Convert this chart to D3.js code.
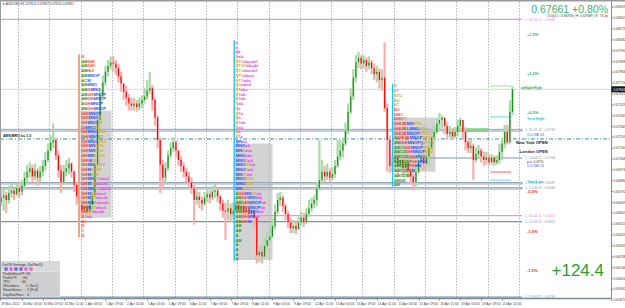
<!DOCTYPE html>
<html>
  <head>
    <meta charset="utf-8">
    <title>AUDUSD H1</title>
    <script src="https://cdn.jsdelivr.net/npm/d3@7"></script>
    <style>
      body { margin: 0; background: #fff; }
      svg { display: block; }
      text { font-family: "Liberation Sans", Arial, sans-serif; }
    </style>
  </head>
  <body>
    <script>
     // 2-hour bars, open = previous close
     let firstOpen = 0.6670;
     let closes = [
       0.6674,0.6676,0.6672,0.6678,0.6680,0.6677,0.6682,0.6679,0.6684,0.6691,
       0.6696,0.6699,0.6692,0.6697,0.6691,0.6696,0.6701,0.6706,0.6714,0.6721,
       0.6723,0.6710,0.6697,0.6687,0.6696,0.6699,0.6703,0.6696,0.6685,0.6675,
       0.6668,0.6663,0.6667,0.6662,0.6668,0.6676,0.6702,0.6740,0.6761,0.6772,
       0.6781,0.6786,0.6789,0.6788,0.6784,0.6777,0.6771,0.6764,0.6759,0.6754,
       0.6752,0.6754,0.6751,0.6754,0.6757,0.6760,0.6765,0.6767,0.6757,0.6742,
       0.6723,0.6702,0.6691,0.6699,0.6710,0.6716,0.6721,0.6714,0.6706,0.6701,
       0.6696,0.6692,0.6687,0.6682,0.6672,0.6675,0.6672,0.6669,0.6674,0.6677,
       0.6674,0.6679,0.6680,0.6675,0.6669,0.6663,0.6662,0.6665,0.6660,0.6663,
       0.6668,0.6663,0.6667,0.6662,0.6665,0.6660,0.6663,0.6657,0.6625,0.6628,
       0.6624,0.6633,0.6638,0.6641,0.6650,0.6662,0.6672,0.6674,0.6667,0.6660,
       0.6653,0.6648,0.6650,0.6647,0.6653,0.6657,0.6653,0.6660,0.6665,0.6669,
       0.6672,0.6682,0.6689,0.6696,0.6692,0.6696,0.6691,0.6694,0.6701,0.6709,
       0.6714,0.6720,0.6731,0.6747,0.6760,0.6776,0.6789,0.6793,0.6788,0.6791,
       0.6786,0.6789,0.6784,0.6779,0.6781,0.6774,0.6776,0.6750,0.6723,0.6701,
       0.6704,0.6708,0.6701,0.6706,0.6699,0.6704,0.6697,0.6692,0.6687,0.6696,
       0.6704,0.6708,0.6703,0.6709,0.6716,0.6725,0.6730,0.6737,0.6740,0.6742,
       0.6735,0.6728,0.6730,0.6726,0.6730,0.6735,0.6740,0.6730,0.6721,0.6716,
       0.6718,0.6706,0.6711,0.6714,0.6709,0.6706,0.6708,0.6704,0.6708,0.6704,
       0.6706,0.6713,0.6720,0.6730,0.6721,0.6747,0.67661
     ];
     let highs = [
       0.6680,0.6682,0.6679,0.6684,0.6686,0.6682,0.6686,0.6685,0.6689,0.6696,
       0.6702,0.6704,0.6702,0.6703,0.6699,0.6701,0.6706,0.6713,0.6720,0.6727,
       0.6737,0.6725,0.6714,0.6702,0.6702,0.6706,0.6708,0.6704,0.6697,0.6687,
       0.6676,0.6672,0.6672,0.6670,0.6674,0.6682,0.6706,0.6747,0.6767,0.6778,
       0.6786,0.6791,0.6794,0.6794,0.6791,0.6788,0.6781,0.6771,0.6769,0.6762,
       0.6759,0.6759,0.6757,0.6759,0.6761,0.6767,0.6774,0.6781,0.6770,0.6759,
       0.6744,0.6725,0.6706,0.6704,0.6714,0.6721,0.6725,0.6723,0.6714,0.6709,
       0.6704,0.6699,0.6696,0.6691,0.6685,0.6680,0.6679,0.6675,0.6679,0.6682,
       0.6680,0.6684,0.6685,0.6682,0.6676,0.6672,0.6670,0.6672,0.6669,0.6670,
       0.6674,0.6672,0.6672,0.6670,0.6672,0.6668,0.6669,0.6667,0.6659,0.6633,
       0.6633,0.6640,0.6645,0.6648,0.6657,0.6668,0.6678,0.6679,0.6676,0.6669,
       0.6663,0.6657,0.6655,0.6653,0.6658,0.6662,0.6661,0.6665,0.6672,0.6674,
       0.6676,0.6687,0.6723,0.6706,0.6701,0.6703,0.6699,0.6700,0.6706,0.6723,
       0.6723,0.6725,0.6738,0.6754,0.6767,0.6783,0.6795,0.6798,0.6795,0.6795,
       0.6793,0.6794,0.6791,0.6788,0.6786,0.6784,0.6783,0.6806,0.6754,0.6727,
       0.6710,0.6714,0.6713,0.6714,0.6710,0.6713,0.6708,0.6706,0.6701,0.6703,
       0.6713,0.6714,0.6713,0.6716,0.6723,0.6730,0.6735,0.6742,0.6746,0.6744,
       0.6742,0.6738,0.6735,0.6733,0.6734,0.6740,0.6742,0.6740,0.6734,0.6723,
       0.6723,0.6720,0.6717,0.6719,0.6716,0.6713,0.6713,0.6711,0.6711,0.6710,
       0.6710,0.6720,0.6725,0.6736,0.6736,0.6757,0.6769
     ];
     let lows = [
       0.6667,0.6663,0.6661,0.6669,0.6674,0.6672,0.6675,0.6674,0.6676,0.6682,
       0.6687,0.6691,0.6686,0.6689,0.6684,0.6687,0.6692,0.6697,0.6704,0.6713,
       0.6716,0.6706,0.6691,0.6678,0.6685,0.6692,0.6694,0.6691,0.6679,0.6668,
       0.6659,0.6657,0.6660,0.6657,0.6659,0.6663,0.6674,0.6699,0.6736,0.6759,
       0.6769,0.6777,0.6783,0.6781,0.6778,0.6772,0.6764,0.6757,0.6752,0.6748,
       0.6748,0.6748,0.6747,0.6748,0.6750,0.6754,0.6757,0.6762,0.6748,0.6735,
       0.6716,0.6678,0.6682,0.6687,0.6697,0.6708,0.6713,0.6708,0.6701,0.6696,
       0.6691,0.6687,0.6682,0.6677,0.6651,0.6668,0.6665,0.6663,0.6667,0.6670,
       0.6669,0.6672,0.6674,0.6670,0.6663,0.6657,0.6638,0.6655,0.6653,0.6655,
       0.6660,0.6658,0.6660,0.6657,0.6658,0.6655,0.6657,0.6650,0.6618,0.6619,
       0.6618,0.6623,0.6630,0.6635,0.6640,0.6647,0.6660,0.6667,0.6662,0.6655,
       0.6648,0.6644,0.6644,0.6643,0.6647,0.6650,0.6649,0.6652,0.6658,0.6662,
       0.6665,0.6667,0.6680,0.6686,0.6687,0.6689,0.6687,0.6689,0.6691,0.6699,
       0.6706,0.6708,0.6718,0.6728,0.6745,0.6757,0.6772,0.6784,0.6783,0.6784,
       0.6781,0.6783,0.6779,0.6774,0.6772,0.6767,0.6765,0.6747,0.6696,0.6695,
       0.6696,0.6697,0.6691,0.6696,0.6692,0.6694,0.6691,0.6686,0.6680,0.6682,
       0.6694,0.6699,0.6697,0.6701,0.6701,0.6714,0.6723,0.6728,0.6731,0.6733,
       0.6728,0.6723,0.6725,0.6723,0.6725,0.6726,0.6730,0.6723,0.6714,0.6712,
       0.6712,0.6689,0.6704,0.6708,0.6704,0.6701,0.6702,0.6701,0.6702,0.6701,
       0.6702,0.6703,0.6706,0.6716,0.6719,0.6720,0.6744
     ];

     // time axis: hour index of each label
     let timeTickIdx = [0, 17, 33, 49, 65, 81, 97, 113, 129, 145, 161, 177, 193,
                        209, 225, 241, 257, 273, 289, 305, 321, 337, 353, 369, 385];
     let timeTickLabels = ["29 Mar 2021", "30 Mar 03:00", "30 Mar 19:00", "31 Mar 11:00",
                           "1 Apr 03:00", "1 Apr 19:00", "2 Apr 11:00", "5 Apr 03:00",
                           "5 Apr 19:00", "6 Apr 11:00", "7 Apr 03:00", "7 Apr 19:00",
                           "8 Apr 11:00", "9 Apr 03:00", "9 Apr 19:00", "12 Apr 11:00",
                           "13 Apr 03:00", "13 Apr 19:00", "14 Apr 11:00", "15 Apr 03:00",
                           "15 Apr 19:00", "16 Apr 11:00", "19 Apr 03:00", "19 Apr 19:00",
                           "20 Apr 11:00"];
     // day separators (hour index of 00:00)
     let daySepIdx = [14, 38, 62, 86, 110, 134, 158, 182, 206, 230, 254, 278, 302, 326, 350, 374, 398];

     // price axis labels
     let priceTicks = [0.68359, 0.68267, 0.68175, 0.68082, 0.67990, 0.67898, 0.67806,
                       0.67714, 0.67621, 0.67529, 0.67437, 0.67345, 0.67253, 0.67160,
                       0.67068, 0.66976, 0.66884, 0.66792, 0.66699, 0.66607, 0.66515,
                       0.66423, 0.66331, 0.66238, 0.66146, 0.66054, 0.65962, 0.65870];
     let lastPrice = 0.67661;
     let dayOpen = 0.67124;

     // percent levels from the day open
     let pctLevels = [1.5, 1.0, 0.5, -0.5, -1.0, -1.5];

     // horizontal levels (single lines)
     let lineLevels = [0.68256, 0.67077, 0.66587, 0.66536, 0.65895];
     let lineKinds = ["violet", "gray", "violet", "gray", "gray"];
     let lineStartIdx = [0, 301, 176, 0, 0];
     let lineLabels = ["1. 30.03.21 : 0.6826", "1. 14.04.21 : 0.6708", "1. 06.04.21 : 0.6659",
                       "1. 12.04.21 : 0.6654", "1. 19.04.21 : 0.6590"];
     // zones (two prices each)
     let zoneTop = [0.67321, 0.66869, 0.66826];
     let zoneBottom = [0.67306, 0.66856, 0.66813];
     let zoneLabels = ["1. 31.03.21 : 0.6732", "1. 29.03.21 : 0.6687", "1. 12.04.21 : 0.6683"];
     let pivotLevel = 0.67239;

     // today's short levels
     let yestHigh = 0.67426, yestLow = 0.66890, todayHigh = 0.67689, todayLow = 0.66958;
     let pocTop = 0.67331, pocBottom = 0.67297;

     // TPO profiles
     let tpoStep = 0.0004;
     let profileStart = [61.5, 179.8, 301.2];
     let profileTop = [0.6794, 0.6806, 0.6769];
     let vaTop = [0.6748, 0.6720, 0.6742];
     let vaBottom = [0.6657, 0.6621, 0.6696];
     let vaEnd = [85.3, 208.7, 333.6];
     let rowsA = ["G", "ABGHI", "ABGHI", "ABHIJ", "ABMNOP", "ACM", "ABMNO", "ABGMNO",
                  "ABGHMNOP", "ABGHMNOP", "AGHMNOP", "ABGHMNOP", "GHIMNOP", "GHIMNOS",
                  "GHMNOST", "GIMNOST", "GHMNOSTU", "GHIMNOST", "GHMNOSTU", "GHIMNSTU",
                  "GHIMNSTU", "GHMNSTUV", "GHIMSTU", "GHMNSTUV", "GHMSTUV", "GHMSTU",
                  "GHMNSTabcd", "GHMSTabcde", "GHMNSTabcde", "GHMSTabcd", "GHMSTabcde",
                  "GHMNSabcde", "GHMSTabcd", "GHSTabcde", "GSab", "GS", "G", "S", "G"];
     let rowsB = ["a", "a", "ab", "Sab", "STUabcdef", "STUVabcde", "STUabcdef", "STUabcd",
                  "STUabc", "SUabcd", "STabc", "STab", "STab", "Sab",
                  "Sa", "STa", "Sa", "STab", "Sab", "Sa", "STa",
                  "MNab", "MNOab", "MNSabc", "MNOabc", "MNOSab", "MNOSTab", "MNOSab",
                  "MNSTab", "MNOSTU", "MNOSTU", "MNSTU",
                  "AGHMNSTab", "ABGHMNOab", "ABGHIMNOPab", "ABGHMNOPab", "ABGHIMNOab",
                  "ABGHMNab", "ABGHM", "AB", "AB", "A", "AB", "A", "A", "A", "A"];
     let rowsC = ["S", "ST", "STU", "SU", "ST", "GS", "GHS", "GHIST",
                  "GHIJKMNSTU", "GHIJKLMNOSTU", "GHIJKMNOPSTUV", "AGHIJKMNOPSTUV",
                  "ABGHIMNOPQSTUV", "ABCGHIMNOPSTU", "ABCDGHMNOPSTU", "ABCDEGHMNOST",
                  "ABCDEFGHMNO", "ABCDEFHMN", "ABCDEFM", "ABCDEF", "ABDE", "AB"];
     let profileRows = [rowsA, rowsB, rowsC];

     let settingsKeys = ["ProfileHistoTF", "ProfileTF", "TPO", "ZNumbers", "ShowValues", "DayStartHour"];
     let settingsValues = ["H1", "H1", "60", "2 (Ser1)", "2 (Full)", "0"];

     // canvas -------------------------------------------------------------
     let w = 625, h = 308;
     let axisX = 611, axisY = 298;
     let svg = d3.select("body").append("svg").attr("width", w).attr("height", h);
     svg.append("rect").attr("width", w).attr("height", h).attr("fill", "#fff");

     let xScale = d3.scaleLinear().domain([14, 398]).range([18, 519]);
     let yScale = d3.scaleLinear().domain([0.65887, 0.68420]).range([axisY, 0]);

     svg.append("clipPath").attr("id", "plot")
        .append("rect").attr("x", 0).attr("y", 1.5).attr("width", axisX).attr("height", axisY - 1.5);
     let plot = svg.append("g").attr("clip-path", "url(#plot)");

     // value area boxes
     plot.selectAll("rect.va")
         .data(profileStart)
         .enter()
         .append("rect")
         .attr("x", (d) => xScale(d) + 0.5)
         .attr("width", (d, i) => xScale(vaEnd[i]) - xScale(d))
         .attr("y", (d, i) => yScale(vaTop[i]))
         .attr("height", (d, i) => yScale(vaBottom[i]) - yScale(vaTop[i]))
         .attr("fill", "#d3d3d3");

     // day separators
     plot.selectAll("line.sep")
         .data(daySepIdx)
         .enter()
         .append("line")
         .attr("x1", (d) => Math.round(xScale(d)) + 0.5)
         .attr("x2", (d) => Math.round(xScale(d)) + 0.5)
         .attr("y1", 2).attr("y2", axisY)
         .attr("stroke", "#b4b4b4")
         .attr("stroke-dasharray", "1.5,1.5");

     // current price line
     plot.append("line")
         .attr("x1", 0).attr("x2", axisX)
         .attr("y1", yScale(lastPrice)).attr("y2", yScale(lastPrice))
         .attr("stroke", "#d6d6d6");

     // zones
     plot.selectAll("rect.zone")
         .data(zoneTop)
         .enter()
         .append("rect")
         .attr("x", 0).attr("width", 522)
         .attr("y", (d) => yScale(d))
         .attr("height", (d, i) => yScale(zoneBottom[i]) - yScale(d))
         .attr("fill", "#e3e9ef")
         .attr("stroke", "#8ea2b6")
         .attr("stroke-width", 0.9);

     // single levels
     plot.selectAll("line.lvl")
         .data(lineLevels)
         .enter()
         .append("line")
         .attr("x1", (d, i) => lineStartIdx[i] ? xScale(lineStartIdx[i]) : 0)
         .attr("x2", 522)
         .attr("y1", (d) => yScale(d)).attr("y2", (d) => yScale(d))
         .attr("stroke", (d, i) => lineKinds[i] == "violet" ? "#d59ee0" : "#7f93a7")
         .attr("stroke-width", 1.2);

     // pivot dash-dot
     plot.append("line")
         .attr("x1", 0).attr("x2", axisX)
         .attr("y1", yScale(pivotLevel)).attr("y2", yScale(pivotLevel))
         .attr("stroke", "#2b9a9a")
         .attr("stroke-dasharray", "4,2,1,2");

     // poc bar and today's short lines
     plot.append("rect")
         .attr("x", xScale(347.4)).attr("width", xScale(374.2) - xScale(347.4))
         .attr("y", yScale(pocTop)).attr("height", yScale(pocBottom) - yScale(pocTop))
         .attr("fill", "#7ed07e").attr("opacity", 0.8);
     let shortLines = [[todayHigh, "#9be39b"], [yestHigh, "#5ee0f0"], [todayLow, "#ff5a5a"], [yestLow, "#5ee0f0"]];
     plot.selectAll("line.short")
         .data(shortLines)
         .enter()
         .append("line")
         .attr("x1", xScale(376)).attr("x2", xScale(392))
         .attr("y1", (d) => yScale(d[0])).attr("y2", (d) => yScale(d[0]))
         .attr("stroke", (d) => d[1]);

     // candles
     let bars = closes.map((c, i) => {
       let o = i == 0 ? firstOpen : closes[i - 1];
       return {i: i, o: o, c: c, h: Math.max(highs[i], o, c), l: Math.min(lows[i], o, c)};
     });
     let cx = (d) => xScale(2 * d.i + 1);
     plot.selectAll("rect.wick")
         .data(bars)
         .enter()
         .append("rect")
         .attr("x", (d) => cx(d) - 1.1)
         .attr("width", 2.2)
         .attr("y", (d) => yScale(d.h))
         .attr("height", (d) => Math.max(1, yScale(d.l) - yScale(d.h)))
         .attr("fill", (d) => d.c >= d.o ? "#a9dba9" : "#f7b0b0");
     plot.selectAll("rect.body")
         .data(bars)
         .enter()
         .append("rect")
         .attr("x", (d) => cx(d) - 0.6)
         .attr("width", 1.2)
         .attr("y", (d) => yScale(Math.max(d.o, d.c)))
         .attr("height", (d) => Math.max(1, Math.abs(yScale(d.o) - yScale(d.c))))
         .attr("fill", (d) => d.c >= d.o ? "#1f8f1f" : "#ff0000");

     // TPO profiles
     function tpoColor(ch) {
       if (ch >= "a") return "#f03cf0";
       if (ch <= "F") return "#2e9a2e";
       if (ch <= "L") return "#ff2a2a";
       if (ch <= "R") return "#3050ff";
       return "#dfa030";
     }
     profileRows.forEach((rows, p) => {
       let x0 = xScale(profileStart[p]);
       let yTop = yScale(profileTop[p]);
       let yBot = yScale(profileTop[p] - tpoStep * (rows.length - 1));
       plot.append("rect")
           .attr("x", x0 - (p == 0 ? 2 : 0.8)).attr("width", p == 0 ? 2 : 1.4)
           .attr("y", yTop - 2).attr("height", yBot - yTop + 4)
           .attr("fill", p == 0 ? "#f6a27c" : "#22c4f4");
       let g = plot.append("g");
       g.selectAll("text")
        .data(rows)
        .enter()
        .append("text")
        .attr("x", x0 + 1.2)
        .attr("y", (d, k) => yScale(profileTop[p] - tpoStep * k) + 1.6)
        .attr("font-size", 4.2)
        .attr("font-weight", "bold")
        .each(function (d) {
          d3.select(this).selectAll("tspan")
            .data(d.split(""))
            .enter()
            .append("tspan")
            .attr("fill", tpoColor)
            .text((ch) => ch);
        });
     });

     // left tag on pivot
     svg.append("text").attr("x", 3).attr("y", yScale(pivotLevel) - 1.5)
        .attr("font-size", 3.6).attr("font-weight", "bold").attr("fill", "#222")
        .text("AMS/BRO bu 1.0");

     // right side labels ---------------------------------------------------
     let lx = 525;
     svg.selectAll("text.lvl")
        .data(lineLevels)
        .enter()
        .append("text")
        .attr("x", lx).attr("y", (d) => yScale(d) + 1.3)
        .attr("font-size", 3.4)
        .attr("fill", (d, i) => lineKinds[i] == "violet" ? "#d58ee0" : "#8a9aab")
        .text((d, i) => lineLabels[i]);
     svg.selectAll("text.zone")
        .data(zoneTop)
        .enter()
        .append("text")
        .attr("x", lx).attr("y", (d) => yScale(d) + 1.3)
        .attr("font-size", 3.4).attr("fill", "#8a9aab")
        .text((d, i) => zoneLabels[i]);
     svg.selectAll("text.pct")
        .data(pctLevels)
        .enter()
        .append("text")
        .attr("x", 527).attr("y", (d) => yScale(dayOpen * (1 + d / 100)) + 1.5)
        .attr("font-size", 4).attr("font-weight", "bold")
        .attr("fill", (d) => d > 0 ? "#3cb04a" : "#ff2020")
        .text((d) => (d > 0 ? "+" : "") + d.toFixed(1) + "%");

     let tags = [["wHigh/High", todayHigh, "#3cb04a", 521], ["Yest High", yestHigh, "#20c4e4", 527],
                 ["Yest Low", yestLow, "#20c4e4", 527]];
     svg.selectAll("text.tag")
        .data(tags)
        .enter()
        .append("text")
        .attr("x", (d) => d[3]).attr("y", (d) => yScale(d[1]) + 3)
        .attr("font-size", 3.8).attr("font-weight", "bold")
        .attr("fill", (d) => d[2])
        .text((d) => d[0]);
     svg.append("text").attr("x", 527).attr("y", yScale(zoneBottom[0]) + 5)
        .attr("font-size", 3.6).attr("fill", "#3355ff").text("CLOSE 01");
     svg.append("text").attr("x", 527).attr("y", yScale(lineLevels[1]) + 8.5)
        .attr("font-size", 3.6).attr("fill", "#3355ff").text("CLOSE 01");
     svg.append("text").attr("x", 527).attr("y", yScale(lineLevels[1]) + 5)
        .attr("font-size", 3.4).attr("fill", "#333").text("p.o. 0.6711");
     svg.append("text").attr("x", 516).attr("y", yScale(pivotLevel) + 5.5)
        .attr("font-size", 4.2).attr("font-weight", "bold").attr("fill", "#111").text("New York OPEN");
     svg.append("text").attr("x", 519.5).attr("y", yScale(pivotLevel) + 14.5)
        .attr("font-size", 4.2).attr("font-weight", "bold").attr("fill", "#1a1a6a").text("London OPEN");

     // header texts
     svg.append("rect").attr("x", 0).attr("y", 0).attr("width", w).attr("height", 1.5).attr("fill", "#9a9a9a");
     svg.append("text").attr("x", 2).attr("y", 5.2)
        .attr("font-size", 3.2).attr("fill", "#333")
        .text("\u25BC AUDUSD,H1  0.67612 0.67667 0.67610 " + lastPrice.toFixed(5));
     svg.append("text").attr("x", 608).attr("y", 12.5)
        .attr("text-anchor", "end").attr("font-size", 10.5).attr("fill", "#3cb371")
        .text(lastPrice.toFixed(5) + "  +" + ((lastPrice / dayOpen - 1) * 100).toFixed(2) + "%");
     svg.append("text").attr("x", 608).attr("y", 17)
        .attr("text-anchor", "end").attr("font-size", 3.4).attr("fill", "#444")
        .text("D1(0) L: " + todayLow.toFixed(5) + " | H: " + todayHigh.toFixed(5) + " | R: 73.1p");
     svg.append("text").attr("x", 604).attr("y", 276)
        .attr("text-anchor", "end").attr("font-size", 17).attr("fill", "#2ca02c")
        .text("+124.4");

     // settings panel
     let panel = svg.append("g");
     panel.append("rect").attr("x", 1).attr("y", 261).attr("width", 59).attr("height", 36).attr("fill", "#d9d9d9");
     panel.append("rect").attr("x", 1).attr("y", 271.5).attr("width", 59).attr("height", 25.5)
          .attr("fill", "#cfcfcf").attr("stroke", "#eeeeee").attr("stroke-width", 0.6);
     panel.append("text").attr("x", 2).attr("y", 265.8).attr("font-size", 3.5)
          .attr("font-family", "Liberation Mono, monospace").attr("fill", "#222")
          .text("On/Off Settings: Del/Sel/Q");
     let dots = ["#6b6bff", "#ff5fd0", "#6b6bff", "#6b6bff", "#ff5fd0", "#ff5fd0"];
     panel.selectAll("circle")
          .data(dots)
          .enter()
          .append("circle")
          .attr("cx", (d, i) => 6 + i * 5).attr("cy", 269).attr("r", 1.9)
          .attr("fill", (d) => d);
     panel.selectAll("text.set")
          .data(settingsKeys)
          .enter()
          .append("text")
          .attr("x", 3).attr("y", (d, i) => 275 + i * 4.1)
          .attr("font-size", 3.4)
          .attr("font-family", "Liberation Mono, monospace")
          .attr("fill", "#333")
          .attr("xml:space", "preserve")
          .text((d, i) => (d + "             ").slice(0, 14) + ": " + settingsValues[i]);

     // axes frame
     svg.append("line").attr("x1", axisX + 0.5).attr("x2", axisX + 0.5).attr("y1", 1.5).attr("y2", axisY + 1)
        .attr("stroke", "#8c8c8c");
     svg.append("line").attr("x1", 0).attr("x2", axisX + 1).attr("y1", axisY + 0.5).attr("y2", axisY + 0.5)
        .attr("stroke", "#7d8c9c").attr("stroke-width", 1.4);
     svg.append("line").attr("x1", 0.5).attr("x2", 0.5).attr("y1", 1.5).attr("y2", axisY)
        .attr("stroke", "#9a9a9a");

     // price axis
     let yAxis = svg.append("g");
     yAxis.selectAll("line")
          .data(priceTicks)
          .enter()
          .append("line")
          .attr("x1", axisX).attr("x2", axisX + 2)
          .attr("y1", (d) => yScale(d)).attr("y2", (d) => yScale(d))
          .attr("stroke", "#888");
     yAxis.selectAll("text")
          .data(priceTicks)
          .enter()
          .append("text")
          .attr("x", axisX + 2.5).attr("y", (d) => yScale(d) + 1.2)
          .attr("font-size", 3.4).attr("fill", "#444")
          .text((d) => d.toFixed(5));
     yAxis.append("rect")
          .attr("x", axisX + 0.5).attr("y", yScale(lastPrice) - 3).attr("width", 14).attr("height", 6)
          .attr("fill", "#111");
     yAxis.append("text")
          .attr("x", axisX + 2.5).attr("y", yScale(lastPrice) + 1.3)
          .attr("font-size", 3.4).attr("fill", "#fff")
          .text(lastPrice.toFixed(5));

     // time axis
     let xAxis = svg.append("g");
     xAxis.selectAll("line")
          .data(timeTickIdx)
          .enter()
          .append("line")
          .attr("x1", (d) => Math.round(xScale(d)) + 0.5).attr("x2", (d) => Math.round(xScale(d)) + 0.5)
          .attr("y1", axisY).attr("y2", axisY + 2.5)
          .attr("stroke", "#8c8c8c");
     xAxis.selectAll("text")
          .data(timeTickIdx)
          .enter()
          .append("text")
          .attr("x", (d) => Math.max(1, xScale(d) + 0.8)).attr("y", 304.5)
          .attr("font-size", 3.3).attr("fill", "#444")
          .text((d, i) => timeTickLabels[i]);
    </script>
  </body>
</html>
